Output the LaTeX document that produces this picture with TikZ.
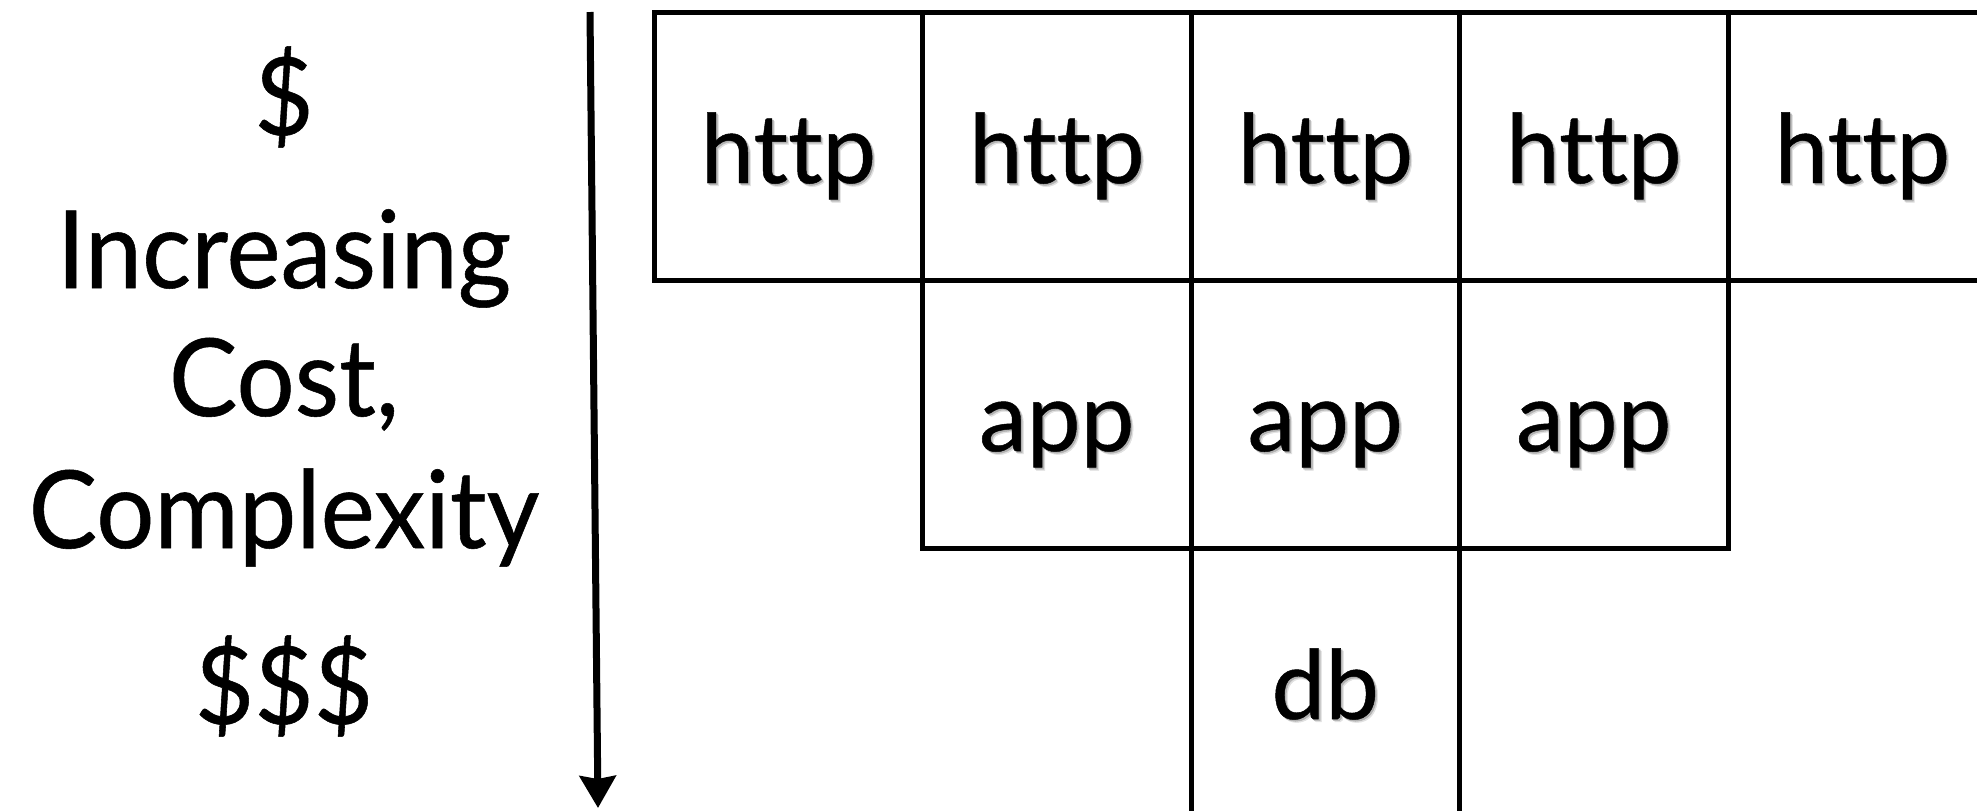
\documentclass[tikz,border=0pt]{standalone}
\usepackage{fontspec}
\setmainfont[Ligatures=NoCommon]{Lato}
\newfontfamily\cellfont[Ligatures=NoCommon, FakeBold=0.5]{Lato}
\newfontfamily\sidefont[Ligatures=NoCommon, FakeBold=0.5, FakeStretch=0.95]{Lato}
\usetikzlibrary{arrows.meta}
\newcommand\shtext[1]{\rlap{\hspace{1.4pt}\raisebox{-1.4pt}{\textcolor{black!12}{#1}}}\rlap{\hspace{0.8pt}\raisebox{-0.8pt}{\textcolor{black!30}{#1}}}#1}
\begin{document}
\begin{tikzpicture}[x=0.5pt,y=-0.5pt,
  cell/.style={draw, line width=2.5pt, minimum width=134.25pt, minimum height=134pt,
    inner sep=0pt, outer sep=0pt, text height=37pt, text depth=0pt,
    font=\cellfont\fontsize{48}{50}\selectfont},
  sidetext/.style={font=\sidefont\fontsize{54}{60}\selectfont, inner sep=0pt, outer sep=0pt},
  axis/.style={line width=3.5pt, -{Stealth[length=16pt,width=18pt,inset=1.5pt]}}
]
\clip (0,0) rectangle (1977,810);
\fill[white] (0,0) rectangle (1977,810);
% grid of servers
\node[cell] (h1) at (788.25,146) {\shtext{http}};
\node[cell] (h2) at (1056.75,146) {\shtext{http}};
\node[cell] (h3) at (1325.25,146) {\shtext{http}};
\node[cell] (h4) at (1593.75,146) {\shtext{http}};
\node[cell] (h5) at (1862.25,146) {\shtext{http}};
\node[cell] (a1) at (1056.75,414) {\shtext{app}};
\node[cell] (a2) at (1325.25,414) {\shtext{app}};
\node[cell] (a3) at (1593.75,414) {\shtext{app}};
\node[cell] (db) at (1325.25,682) {\shtext{db}};
% axis arrow
\coordinate (atop) at (590,12);
\coordinate (abot) at (598,808);
\draw[axis] (atop) -- (abot);
% side labels
\node[sidetext, anchor=center] (cheap) at (284,97) {\$};
\node[sidetext, anchor=base] (inc) at (284,288) {Increasing};
\node[sidetext, anchor=base] (cost) at (284,416) {Cost,};
\node[sidetext, anchor=base] (cplx) at (284,548) {Complexity};
\node[sidetext, anchor=center] (dear) at (284,686) {\$\$\$};
\end{tikzpicture}
\end{document}
